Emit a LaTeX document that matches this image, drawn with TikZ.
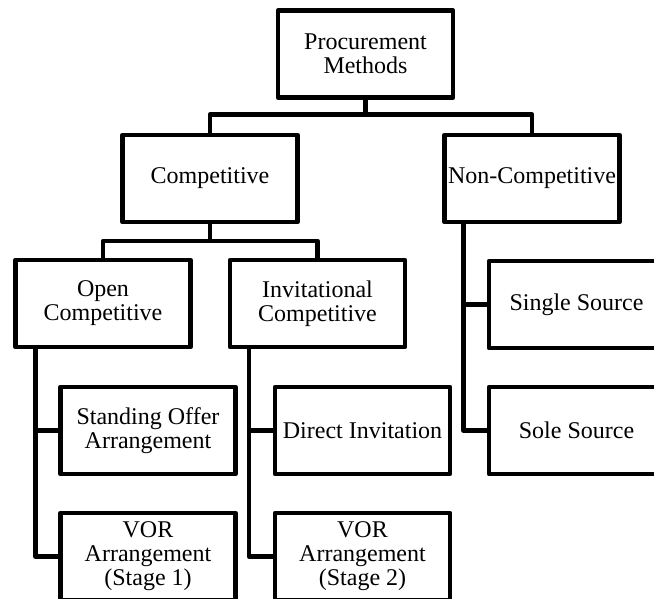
\documentclass[tikz,border=0pt]{standalone}
\usepackage{fontspec}
\setmainfont{Liberation Serif}
\begin{document}
\begin{tikzpicture}[x=1pt, y=-1pt,
    caja/.style={draw, line width=4.5pt, line join=round, outer sep=0pt, inner sep=0pt,
      minimum width=175pt, minimum height=87pt, align=center,
      font=\fontsize{24}{24}\selectfont},
    enlace/.style={line width=4.5pt, line join=round}]
    \useasboundingbox (0,0) rectangle (654,599);
    % Raíz
    \node[caja] (root) at (365.5,54) {Procurement\\Methods};
    % Segundo nivel
    \node[caja] (comp) at (210,178.5) {Competitive};
    \node[caja] (noncomp) at (532,178.5) {Non-Competitive};
    % Tercer nivel
    \node[caja] (open) at (103,303.5) {Open\\Competitive};
    \node[caja] (invit) at (317.5,303.5) {Invitational\\Competitive};
    \node[caja] (single) at (576.5,304.5) {Single Source};
    \node[caja] (sole) at (576.5,430.5) {Sole Source};
    % Cuarto nivel
    \node[caja] (standing) at (148,430.5) {Standing Offer\\Arrangement};
    \node[caja] (vorone) at (148,556.5) {VOR\\Arrangement\\(Stage 1)};
    \node[caja] (direct) at (362.5,430.5) {Direct Invitation};
    \node[caja] (vortwo) at (362.5,556.5) {VOR\\Arrangement\\(Stage 2)};
    % Conexiones
    \draw[enlace] (root.south) -- ++(0,17) -| (comp.north);
    \draw[enlace] (root.south) -- ++(0,17) -| (noncomp.north);
    \draw[enlace] (comp.south) -- ++(0,19) -| (open.north);
    \draw[enlace] (comp.south) -- ++(0,19) -| (invit.north);
    \draw[enlace] ([xshift=20pt]open.south west) |- (standing.west);
    \draw[enlace] ([xshift=20pt]open.south west) |- (vorone.west);
    \draw[enlace] ([xshift=19pt]invit.south west) |- (direct.west);
    \draw[enlace] ([xshift=19pt]invit.south west) |- (vortwo.west);
    \draw[enlace] ([xshift=19pt]noncomp.south west) |- (single.west);
    \draw[enlace] ([xshift=19pt]noncomp.south west) |- (sole.west);
\end{tikzpicture}
\end{document}
